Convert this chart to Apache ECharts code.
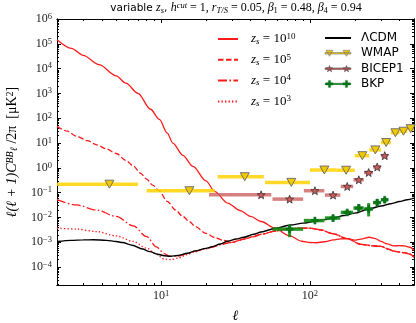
<!DOCTYPE html>
<html><head><meta charset="utf-8">
<script src="https://cdn.jsdelivr.net/npm/echarts@6/dist/echarts.min.js"></script>
<style>html,body{margin:0;padding:0;background:#fff}#c{width:416px;height:323px}</style>
</head><body><div id="c"></div>
<script>
// ---------------- data ----------------
const ellZs10 = [2, 2.5, 3, 3.83, 5, 5.8, 7, 8.5, 9.75, 11, 12, 14, 16.4, 20, 23, 28, 34, 40, 47, 58, 72, 88, 100, 111, 125, 144, 160, 178, 200, 220, 250, 275, 300, 330, 365, 400, 430, 470, 500];
const clZs10 = [1.46e5, 6.6e4, 3.4e4, 1.44e4, 5.1e3, 2.6e3, 1.0e3, 2.3e2, 9.0e1, 2.5e1, 1.0e1, 3.2, 1.14, 0.30, 0.11, 0.038, 0.019, 0.011, 6.9e-3, 3.8e-3, 1.9e-3, 1.1e-3, 9.8e-4, 9.6e-4, 1.05e-3, 1.25e-3, 1.38e-3, 1.4e-3, 1.22e-3, 1.35e-3, 1.6e-3, 1.4e-3, 1.08e-3, 8.6e-4, 7.2e-4, 7.3e-4, 7.2e-4, 6.3e-4, 4.7e-4];

const ellZs5 = [2, 2.35, 2.7, 3.2, 3.7, 4.3, 5, 5.8, 6.5, 7.3, 8, 8.8, 9.7, 11, 12.5, 14, 15.5, 17, 20, 23, 26, 30];
const clZs5 = [47, 30, 19, 12.5, 8.5, 5.8, 3.8, 2.0, 1.2, 0.6, 0.35, 0.2, 0.12, 0.045, 0.02, 0.011, 6.8e-3, 4.3e-3, 2.3e-3, 1.55e-3, 1.2e-3, 1.0e-3];

const ellZs4 = [2, 2.7, 3.7, 5, 6.5, 8, 9.3, 10.5, 11.5, 13, 15, 17, 20, 22, 25, 30];
const clZs4 = [0.052, 0.032, 0.020, 0.011, 4.6e-3, 1.7e-3, 6.5e-4, 3.5e-4, 2.7e-4, 2.8e-4, 3.5e-4, 4.4e-4, 5.6e-4, 6.4e-4, 8.0e-4, 1.0e-3];

const ellZs3 = [2, 2.7, 3.7, 5, 6.5, 8, 9.3, 10.5, 11.7, 13, 15, 17, 20, 22, 25, 30];
const clZs3 = [3.7e-3, 3.4e-3, 2.7e-3, 1.8e-3, 1.08e-3, 5.8e-4, 3.3e-4, 2.1e-4, 2.0e-4, 2.3e-4, 3.2e-4, 4.2e-4, 5.5e-4, 6.4e-4, 8.0e-4, 1.0e-3];

// common high-ell part of the z_s = 10^5, 10^4, 10^3 curves
const ellTail = [36, 42, 47, 58, 70, 86, 100, 117, 144, 178, 220, 255, 300, 340, 365, 400, 430, 470, 500];
const clTail = [1.35e-3, 1.7e-3, 2.1e-3, 2.8e-3, 3.4e-3, 3.7e-3, 3.7e-3, 3.2e-3, 2.2e-3, 1.4e-3, 8.3e-4, 7.4e-4, 6.8e-4, 5.2e-4, 4.4e-4, 4.0e-4, 3.8e-4, 3.3e-4, 2.5e-4];

const ellLcdm = [2, 2.5, 3, 3.5, 4.3, 5, 5.5, 6.4, 7.5, 8.4, 9.5, 10.5, 11.5, 13, 15, 17, 20, 22, 25, 28, 32, 36, 42, 47, 58, 74, 90, 108, 125, 144, 170, 200, 243, 300, 350, 400, 450, 500];
const clLcdm = [1.08e-3, 1.2e-3, 1.25e-3, 1.26e-3, 1.2e-3, 1.08e-3, 9.8e-4, 7.6e-4, 5.4e-4, 4.2e-4, 3.3e-4, 2.85e-4, 2.75e-4, 2.95e-4, 3.6e-4, 4.5e-4, 5.7e-4, 6.6e-4, 8.5e-4, 1.1e-3, 1.35e-3, 1.6e-3, 2.1e-3, 2.6e-3, 3.6e-3, 5.0e-3, 5.9e-3, 7.0e-3, 8.2e-3, 9.7e-3, 1.2e-2, 1.5e-2, 2.1e-2, 2.9e-2, 3.6e-2, 4.4e-2, 5.2e-2, 6.0e-2];

const wmapEll = [4.5, 15.5, 36.5, 75, 125, 175, 225, 275, 325, 375, 425, 475];
const wmapLo  = [2, 8, 24, 50, 100, 150, 200, 250, 300, 350, 400, 450];
const wmapHi  = [7, 23, 49, 100, 150, 200, 250, 300, 350, 400, 450, 500];
const wmapCl  = [0.22, 0.12, 0.44, 0.26, 0.82, 0.80, 3.1, 5.3, 10.5, 26, 30, 38];

const bicepEll = [47, 73, 108, 143, 178, 213, 248, 283, 318];
const bicepLo  = [21, 56, 91, 126, 161, 196, 231, 266, 301];
const bicepHi  = [55, 90, 125, 160, 195, 230, 265, 300, 335];
const bicepCl  = [0.082, 0.055, 0.12, 0.08, 0.178, 0.33, 0.65, 1.08, 3.1];

const bkpEll = [73, 108, 143, 178, 213, 248, 283, 318];
const bkpLo  = [56, 91, 126, 161, 196, 231, 266, 301];
const bkpHi  = [90, 125, 160, 195, 230, 265, 300, 335];
const bkpCl  = [0.0034, 0.0075, 0.0095, 0.016, 0.024, 0.022, 0.040, 0.052];
const bkpErrLo = [0.0016, 0.0065, 0.0068, 0.012, 0.017, 0.011, 0.028, 0.038];
const bkpErrHi = [0.0051, 0.0088, 0.0124, 0.020, 0.035, 0.038, 0.055, 0.065];

const xMajorTicks = [10, 100];
const xMinorTicks = [3, 4, 5, 6, 7, 8, 9, 20, 30, 40, 50, 60, 70, 80, 90, 200, 300, 400];
const yMajorTicks = [1e-4, 1e-3, 1e-2, 1e-1, 1, 10, 100, 1e3, 1e4, 1e5, 1e6];
const zsNames = ['zs1e10', 'zs1e5', 'zs1e4', 'zs1e3'];
const zsExps = ['10', '5', '4', '3'];
const obsNames = ['ΛCDM', 'WMAP', 'BICEP1', 'BKP'];

// ---------------- helpers ----------------
const SANS = 'DejaVu Sans';
const SERIF = 'Liberation Serif';
const X_MIN = 2, X_MAX = 500, Y_MIN = 1.9e-5, Y_MAX = 1e6;
const yMinorTicks = [];
for (let n = -5; n <= 5; n++) for (let k = 2; k <= 9; k++) {
  const v = k * Math.pow(10, n);
  if (v > Y_MIN && v < Y_MAX) yMinorTicks.push(v);
}
const pairs = (xs, ys) => xs.map((x, i) => [x, ys[i]]);

function supText(e) { return e < 0 ? '−' + (-e) : String(e); }
const tickRich = {
  b: {fontFamily: SERIF, fontSize: 12, lineHeight: 14, color: '#222'},
  s: {fontFamily: SERIF, fontSize: 8.5, lineHeight: 7, verticalAlign: 'top', color: '#222'}
};
const powLabel = v => '{b|10}{s|' + supText(Math.round(Math.log10(v))) + '}';

function makeRich(base, small, sansSize) {
  const c = '#000', fw = 'normal';
  return {
    t: {fontFamily: SANS, fontSize: sansSize, lineHeight: 14, color: c, fontWeight: fw},
    b: {fontFamily: SERIF, fontSize: base, lineHeight: 14, color: c, fontWeight: fw},
    i: {fontFamily: SERIF, fontStyle: 'italic', fontSize: base, lineHeight: 14, color: c, fontWeight: fw},
    isub: {fontFamily: SERIF, fontStyle: 'italic', fontSize: small, lineHeight: 9, verticalAlign: 'bottom', color: c, fontWeight: fw},
    isup: {fontFamily: SERIF, fontStyle: 'italic', fontSize: small, lineHeight: 6, verticalAlign: 'top', color: c, fontWeight: fw},
    sub: {fontFamily: SERIF, fontSize: small, lineHeight: 9, verticalAlign: 'bottom', color: c, fontWeight: fw},
    sup: {fontFamily: SERIF, fontSize: small, lineHeight: 6, verticalAlign: 'top', color: c, fontWeight: fw}
  };
}
const titleRich = makeRich(12, 8.5, 10.5);
const yNameRich = makeRich(14, 10, 12);

function starPath(cx, cy, R, r) {
  let d = '';
  for (let k = 0; k < 10; k++) {
    const a = -Math.PI / 2 + k * Math.PI / 5;
    const rad = k % 2 ? r : R;
    d += (k ? 'L' : 'M') + (cx + rad * Math.cos(a)).toFixed(2) + ',' + (cy + rad * Math.sin(a)).toFixed(2);
  }
  return d + 'Z';
}
function plusPath(cx, cy, a, w) {
  return 'M' + (cx - w) + ',' + (cy - a) + 'H' + (cx + w) + 'V' + (cy - w) + 'H' + (cx + a) + 'V' + (cy + w) +
    'H' + (cx + w) + 'V' + (cy + a) + 'H' + (cx - w) + 'V' + (cy + w) + 'H' + (cx - a) + 'V' + (cy - w) + 'H' + (cx - w) + 'Z';
}
const STAR = 'path://' + starPath(0, 0, 10, 4.2);
const PLUS = 'path://' + plusPath(0, 0, 10, 3);
const BAR_ICON = 'M0,8.5H52V11.5H0Z';
const WMAP_ICON = 'path://' + BAR_ICON + 'M2,4H16L9,16ZM36,4H50L43,16Z';
const BICEP_ICON = 'path://' + BAR_ICON + starPath(9, 10.5, 7, 3) + starPath(43, 10.5, 7, 3);
const BKP_ICON = 'path://' + BAR_ICON + plusPath(9, 10, 7, 2.2) + plusPath(43, 10, 7, 2.2);

const C_WMAP_BAR = 'rgba(255,210,0,0.85)', C_WMAP = '#f2c800';
const C_BICEP_BAR = 'rgba(200,85,85,0.75)', C_BICEP = '#d05a5a';
const C_BKP_BAR = 'rgba(20,140,20,0.9)', C_BKP = '#0b7a0b';

function hbar(color, width) {
  return function (params, api) {
    const y = api.value(2);
    const a = api.coord([api.value(0), y]);
    const b = api.coord([api.value(1), y]);
    return {type: 'line', shape: {x1: a[0], y1: a[1], x2: b[0], y2: b[1]},
            style: {stroke: color, lineWidth: width}};
  };
}
function crossBar(params, api) {
  const y = api.value(2), c = api.value(3);
  const a = api.coord([api.value(0), y]);
  const b = api.coord([api.value(1), y]);
  const p = api.coord([c, api.value(4)]);
  const q = api.coord([c, api.value(5)]);
  return {type: 'group', children: [
    {type: 'line', shape: {x1: a[0], y1: a[1], x2: b[0], y2: b[1]}, style: {stroke: C_BKP_BAR, lineWidth: 3.5}},
    {type: 'line', shape: {x1: p[0], y1: p[1], x2: q[0], y2: q[1]}, style: {stroke: C_BKP_BAR, lineWidth: 3}}
  ]};
}

// ---------------- axes ----------------
function xAx(pos, ticks, len, withLabels) {
  return {
    type: 'log', logBase: 10, min: X_MIN, max: X_MAX, position: pos,
    axisLine: {show: true, lineStyle: {color: '#000', width: 1}},
    axisTick: {show: true, inside: true, length: len, customValues: ticks, lineStyle: {color: '#000', width: 1}},
    axisLabel: withLabels ? {show: true, customValues: xMajorTicks, formatter: powLabel, rich: tickRich, margin: 4} : {show: false},
    splitLine: {show: false}, minorTick: {show: false},
    name: withLabels ? 'ℓ' : '', nameLocation: 'middle', nameGap: 24,
    nameTextStyle: {fontFamily: SERIF, fontStyle: 'italic', fontSize: 14, color: '#000'}
  };
}
function yAx(pos, ticks, len, withLabels) {
  return {
    type: 'log', logBase: 10, min: Y_MIN, max: Y_MAX, position: pos,
    axisLine: {show: true, lineStyle: {color: '#000', width: 1}},
    axisTick: {show: true, inside: true, length: len, customValues: ticks, lineStyle: {color: '#000', width: 1}},
    axisLabel: withLabels ? {show: true, customValues: yMajorTicks, formatter: powLabel, rich: tickRich, margin: 5} : {show: false},
    splitLine: {show: false}, minorTick: {show: false},
    name: withLabels ? '{i|ℓ(ℓ + 1)C}{isup|BB}{isub|ℓ}{b| /2π  [μK}{sup|2}{b|]}' : '',
    nameLocation: 'middle', nameGap: 38, nameRotate: 90,
    nameTextStyle: {rich: yNameRich}
  };
}

// ---------------- series ----------------
const lineDefs = [
  {x: ellZs10, y: clZs10, type: 'solid'},
  {x: ellZs5.concat(ellTail), y: clZs5.concat(clTail), type: [5.5, 2.5]},
  {x: ellZs4.concat(ellTail), y: clZs4.concat(clTail), type: [9, 2.4, 1.6, 2.4]},
  {x: ellZs3.concat(ellTail), y: clZs3.concat(clTail), type: [1.4, 2.1]}
];
const series = lineDefs.map((d, i) => ({
  type: 'line', name: zsNames[i], data: pairs(d.x, d.y), symbol: 'none',
  smooth: 0.3, smoothMonotone: 'x', z: 2,
  lineStyle: {color: '#ff1a1a', width: 1.3, type: d.type}, itemStyle: {color: '#ff1a1a'}
}));
series.push({
  type: 'line', name: 'ΛCDM', data: pairs(ellLcdm, clLcdm), symbol: 'none', smooth: 0.3, smoothMonotone: 'x', z: 3,
  lineStyle: {color: '#000', width: 1.4}, itemStyle: {color: '#000'}
});
series.push({
  type: 'custom', name: 'wmapBars', renderItem: hbar(C_WMAP_BAR, 3.5), clip: true, z: 4,
  encode: {x: [0, 1], y: 2}, data: wmapEll.map((_, i) => [wmapLo[i], wmapHi[i], wmapCl[i]])
});
series.push({
  type: 'custom', name: 'bicepBars', renderItem: hbar(C_BICEP_BAR, 3.5), clip: true, z: 4,
  encode: {x: [0, 1], y: 2}, data: bicepEll.map((_, i) => [bicepLo[i], bicepHi[i], bicepCl[i]])
});
series.push({
  type: 'custom', name: 'bkpBars', renderItem: crossBar, clip: true, z: 4,
  encode: {x: [0, 1, 3], y: [2, 4, 5]},
  data: bkpEll.map((_, i) => [bkpLo[i], bkpHi[i], bkpCl[i], bkpEll[i], bkpErrLo[i], bkpErrHi[i]])
});
series.push({
  type: 'scatter', name: 'WMAP', data: pairs(wmapEll, wmapCl), symbol: 'triangle', symbolRotate: 180,
  symbolSize: [9, 8], z: 5, itemStyle: {color: C_WMAP, borderColor: '#666', borderWidth: 0.9, opacity: 1}
});
series.push({
  type: 'scatter', name: 'BICEP1', data: pairs(bicepEll, bicepCl), symbol: STAR,
  symbolSize: 8, z: 5, itemStyle: {color: C_BICEP, borderColor: '#333', borderWidth: 0.8, opacity: 1}
});
series.push({
  type: 'scatter', name: 'BKP', data: pairs(bkpEll, bkpCl), symbol: PLUS,
  symbolSize: 7, z: 5, itemStyle: {color: C_BKP, borderColor: '#063', borderWidth: 0.5, opacity: 1}
});

const legendRich = {
  g: {width: 8, lineHeight: 14},
  g2: {width: 5, lineHeight: 14},
  L: {fontFamily: SANS, fontSize: 12, lineHeight: 14, color: '#000'},
  m: {fontFamily: SERIF, fontSize: 13, lineHeight: 14, color: '#000'},
  mi: {fontFamily: SERIF, fontStyle: 'italic', fontSize: 13, lineHeight: 14, color: '#000'},
  ms: {fontFamily: SERIF, fontStyle: 'italic', fontSize: 9, lineHeight: 9, verticalAlign: 'bottom', color: '#000'},
  mp: {fontFamily: SERIF, fontSize: 9, lineHeight: 6, verticalAlign: 'top', color: '#000'}
};
const hidden = {opacity: 0, color: 'rgba(0,0,0,0)', borderWidth: 0};

const option = {
  animation: false,
  backgroundColor: '#fff',
  title: {
    text: '{t|variable }{i|z}{isub|s}{t|, }{i|h}{isup|cut}{b| = 1, }{i|r}{isub|T/S}{b| = 0.05, }{i|β}{sub|1}{b| = 0.48, }{i|β}{sub|4}{b| = 0.94}',
    left: 236, top: 1, textAlign: 'center', padding: 0,
    textStyle: {fontWeight: 'normal', rich: titleRich}
  },
  grid: {left: 57, right: 2, top: 19, bottom: 38, containLabel: false, outerBoundsMode: 'none'},
  xAxis: [xAx('bottom', xMajorTicks, 4, true), xAx('bottom', xMinorTicks, 2, false),
          xAx('top', xMajorTicks, 4, false), xAx('top', xMinorTicks, 2, false)],
  yAxis: [yAx('left', yMajorTicks, 4, true), yAx('left', yMinorTicks, 2, false),
          yAx('right', yMajorTicks, 4, false), yAx('right', yMinorTicks, 2, false)],
  legend: [
    {
      data: zsNames.map(n => ({name: n, itemStyle: hidden})),
      orient: 'vertical', left: 217, top: 32, padding: 0,
      itemWidth: 20, itemHeight: 14, itemGap: 6.8, selectedMode: false,
      formatter: name => '{g| }{mi|z}{ms|s}{m| = 10}{mp|' + zsExps[zsNames.indexOf(name)] + '}',
      textStyle: {rich: legendRich}
    },
    {
      data: [
        {name: obsNames[0], itemStyle: hidden},
        {name: obsNames[1], icon: WMAP_ICON, itemStyle: {color: C_WMAP, borderColor: '#777', borderWidth: 0.6}},
        {name: obsNames[2], icon: BICEP_ICON, itemStyle: {color: C_BICEP, borderColor: '#444', borderWidth: 0.5}},
        {name: obsNames[3], icon: BKP_ICON, itemStyle: {color: C_BKP, borderColor: '#063', borderWidth: 0.3}}
      ],
      orient: 'vertical', left: 324, top: 32, padding: 0,
      itemWidth: 26, itemHeight: 10, itemGap: 3.3, selectedMode: false,
      formatter: name => '{g2| }{L|' + name + '}',
      textStyle: {rich: legendRich}
    }
  ],
  series: series
};
series.forEach(s => { s.xAxisIndex = 0; s.yAxisIndex = 0; });

const chart = echarts.init(document.getElementById('c'), null, {renderer: 'canvas', width: 416, height: 323});
chart.setOption(option);
</script>
</body></html>
